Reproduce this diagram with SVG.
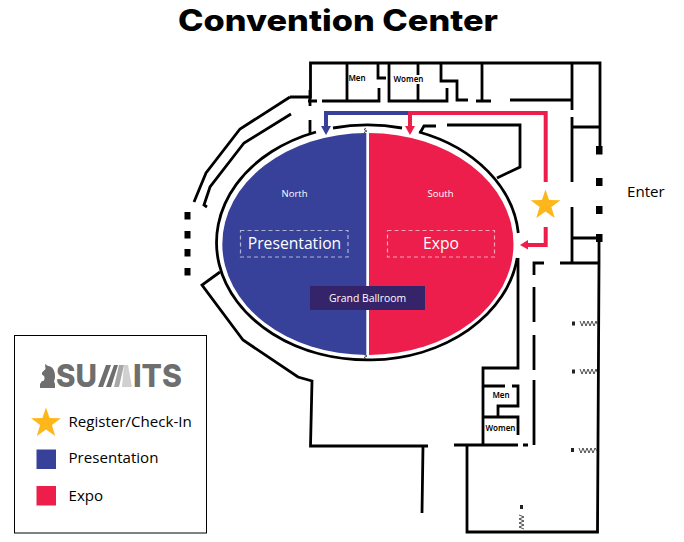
<svg xmlns="http://www.w3.org/2000/svg" width="684" height="542" viewBox="0 0 684 542">
<style>
.w{fill:none;stroke:#000;stroke-width:2.800}
.z{fill:none;stroke:#222;stroke-width:.8}
.t{font-family:"Open Sans","Noto Sans",sans-serif;font-size:15.100px;font-weight:500;fill:#000}
.lb{font-family:"Open Sans","Noto Sans",sans-serif;fill:#fff;text-anchor:middle}
.rm{font-family:"Noto Sans","Open Sans",sans-serif;font-size:8px;font-weight:600;fill:#000;text-anchor:middle}
.d{fill:none;stroke:#fff;stroke-opacity:.6;stroke-width:1.200;stroke-dasharray:4 3}
.g{fill:#6e6e6e}
.lg{font-family:Inter,"Liberation Sans",sans-serif;font-weight:800;font-size:31px;fill:#6e6e6e}
</style>
<defs><polygon id="star" points="0,-15.500 3.600,-4.900 14.900,-4.700 5.900,2 9.200,12.900 0,6.400 -9.200,12.900 -5.900,2 -14.900,-4.700 -3.600,-4.900"/></defs>
<rect width="684" height="542" fill="#fff"/>
<text x="178" y="30.500" textLength="320" lengthAdjust="spacingAndGlyphs" font-family="Inter,Lato,sans-serif" font-weight="800" font-size="29.500" fill="#000">Convention Center</text>
<g id="walls">
<path class="w" d="M290,97H310.500V63H600V146M308,101H317M322,101H379V88M378,63V78H386M347,63V101M389,63V101H447V88M418,63V75M418,84V101M441,63V81H457V100H468M482,63V101M476,101H491M510,100H572M572,63V110M572,117V182M572,127H599M572,207V263M572,238H599M310,90V106M310,120V133"/>
<path class="w" d="M599,238V263L597.500,532H467V445M454,445H518M523,445H528M560,263H598M544,263H534V275M534,287V322M534,335V370M534,380V445"/>
<path class="w" d="M518,258V368H483V445M484,386H505M512,386H518V406H498V417M484,417H518V435"/>
<path class="w" d="M447,125H520V167L497,178M420,133L424,126H436"/>
<path class="w" d="M333,128A151,117.500 0 0 1 402,128M419,132A151,117.500 0 0 1 518.300,233M517.200,258A151,117.500 0 1 1 316,132"/>
<path class="w" d="M290,97L240,129L206,173L194,202M291,114L244,143L210,187L204,205L207,207M220,272L202,285L243,340L298,377L312,381L310.500,446H428M423,446L422,513"/>
<path fill="#000" d="M184.500,212h6v7.500h-6zM184.500,231h6v7.500h-6zM184.500,249h6v7.500h-6zM184.500,268h6v7.500h-6zM596,146h6.500v8.500h-6.500zM596,178h6.500v8h-6.500zM596,206h6.500v8h-6.500zM596,234h6.500v8h-6.500z"/>
<path class="z" d="M580,321l2,5 2,-5 2,5 2,-5 2,5 2,-5 2,5 2,-5 1,3M580,369l2,5 2,-5 2,5 2,-5 2,5 2,-5 2,5 2,-5 1,3M579,448l2,5 2,-5 2,5 2,-5 2,5 2,-5 2,5 2,-5 2,3M519,515l5,2 -5,2 5,2 -5,2 5,2 -5,2 5,2M366,128l-2,1.500 3,1.500 -3,1.500 2,1.500M366,353l-2,1.500 3,1.500 -3,1.500 2,1.500"/>
<path fill="#222" d="M572,321.500h3v4h-3zM572,369.500h3v4h-3zM571,448h3v4h-3zM520,505h3v4h-3z"/>
<text class="rm" x="357" y="80.500">Men</text><text class="rm" x="408.500" y="82">Women</text><text class="rm" x="501" y="398">Men</text><text class="rm" x="500.500" y="431">Women</text>
</g>
<g id="north"><path fill="#38419a" d="M366.300,133A144,111 0 0 0 366.300,355Z"/><text class="lb" x="294.500" y="197" font-size="9.500">North</text></g>
<g id="south"><path fill="#ed1e4b" d="M369,133A144.500,111 0 0 1 369,355Z"/><text class="lb" x="440.500" y="197" font-size="9.500">South</text></g>
<g id="presentation"><rect class="d" x="240.500" y="230.500" width="107.500" height="26.500"/><text class="lb" x="294.500" y="249" font-size="15.700">Presentation</text></g>
<g id="expo"><rect class="d" x="387.500" y="230.500" width="107" height="26.500"/><text class="lb" x="441" y="249" font-size="15.700">Expo</text></g>
<g id="grand-ballroom"><rect x="310" y="286" width="115" height="24" fill="#36246a"/><text class="lb" x="367.500" y="301.500" font-size="10.400">Grand Ballroom</text></g>
<g id="connectors">
<path fill="none" stroke="#38419a" stroke-width="4" d="M410,113H326V128"/><path fill="#38419a" d="M321,126H331L326,135Z"/>
<path fill="none" stroke="#ed1e4b" stroke-width="4" d="M545.700,182V113H410V128"/><path fill="#ed1e4b" d="M405,126H415L410,135Z"/>
<path fill="none" stroke="#ed1e4b" stroke-width="4" d="M545.700,227V245H526"/><path fill="#ed1e4b" d="M528,240V249.500L520,245Z"/>
</g>
<g id="register"><use href="#star" x="545.500" y="205" fill="#fdb71a"/></g>
<text class="t" x="627" y="197">Enter</text>
<g id="legend">
<rect x="14.500" y="335.500" width="192" height="197.500" fill="none" stroke="#000" stroke-width="1"/>
<path class="g" d="M40,388V384L42,381H43.500C44.500,379 45,378 44,376L42,374.500V372.500L45.500,369L45,364L48,366C52,366 55,370 55,376C55,379 54.500,380 54,381L55,384V388Z"/>
<text class="lg" x="56" y="387" textLength="41" lengthAdjust="spacingAndGlyphs">SU</text>
<path class="g" d="M98,387L106,365H111L103,387ZM106,387L114,365H118L111,387Z"/>
<path fill="#a8a8a8" d="M114,387L119,365H124L119,387Z"/><path fill="#d0d0d0" d="M122,387L124,365H128L132,387Z"/>
<text class="lg" x="133" y="387" textLength="49" lengthAdjust="spacingAndGlyphs">ITS</text>
<use href="#star" x="46" y="423" fill="#fdb71a"/>
<rect x="36.500" y="449.500" width="19.500" height="19.500" fill="#38419a"/>
<rect x="36.500" y="486" width="19.500" height="19.500" fill="#ed1e4b"/>
<text class="t" x="68.500" y="427">Register/Check-In</text>
<text class="t" x="68.500" y="463">Presentation</text>
<text class="t" x="68.500" y="501">Expo</text>
</g>
</svg>
